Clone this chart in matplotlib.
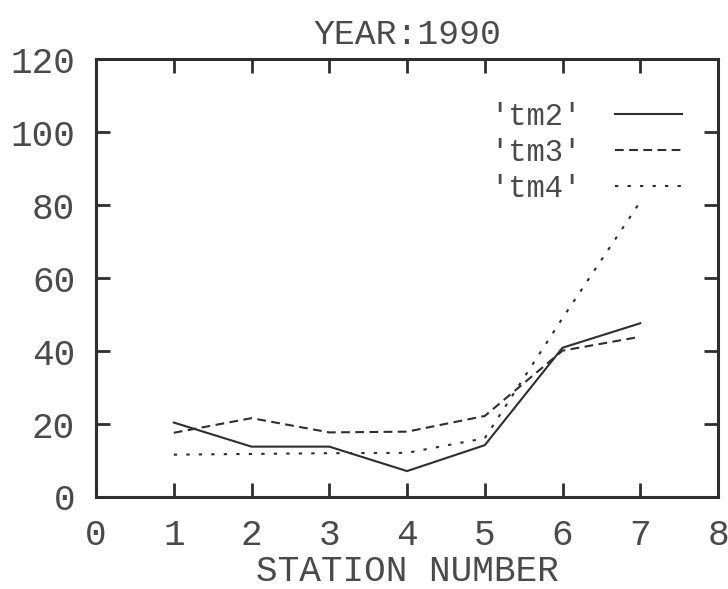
import matplotlib
matplotlib.use("Agg")
import matplotlib.pyplot as plt

# values
stations = [1, 2, 3, 4, 5, 6, 7]
tm2 = [20.4, 13.8, 13.8, 7.1, 14.2, 40.9, 47.6]
tm3 = [17.6, 21.6, 17.7, 17.9, 22.2, 40.1, 43.9]
tm4 = [11.6, 11.8, 12.0, 12.1, 16.1, 49.0, 80.9]
x_ticks = [0, 1, 2, 3, 4, 5, 6, 7, 8]
y_ticks = [0, 20, 40, 60, 80, 100, 120]

INK = "#2e2e2e"
TEXT = "#4a4a4a"

plt.rcParams["font.family"] = ["Liberation Mono", "DejaVu Sans Mono"]


def plot_year(path: str) -> None:
    """Draw the three station series for 1990."""
    fig = plt.figure(figsize=(7.28, 5.89), dpi=100)
    ax = fig.add_axes([0.1319, 0.1562, 0.8544, 0.7436])

    ax.plot(stations, tm2, color=INK, lw=1.5, ls="-", label="'tm2'")
    ax.plot(stations, tm3, color=INK, lw=1.5, ls=(0, (4.2, 2.6)), label="'tm3'")
    ax.plot(stations, tm4, color=INK, lw=1.5, ls=(0, (1.6, 4.4)), label="'tm4'")

    ax.set_xlim(0, 8)
    ax.set_ylim(0, 120)
    ax.set_xticks(x_ticks)
    ax.set_yticks(y_ticks)
    ax.tick_params(direction="in", length=10, width=2, color=INK,
                   top=True, right=True, labelsize=26, labelcolor=TEXT)
    ax.tick_params(axis="x", pad=15)
    ax.tick_params(axis="y", pad=15)
    for sp in ax.spines.values():
        sp.set_linewidth(2.2)
        sp.set_color(INK)

    ax.set_title("YEAR:1990", fontsize=25, color=TEXT, pad=11)
    ax.set_xlabel("STATION NUMBER", fontsize=26, color=TEXT, labelpad=1)

    ax.legend(loc="upper right", bbox_to_anchor=(0.942, 0.902), frameon=False,
              markerfirst=False, fontsize=22, labelcolor=TEXT, handlelength=2.2,
              handletextpad=1.1, labelspacing=0.2, borderpad=0, borderaxespad=0)

    fig.savefig(path, dpi=100)
    plt.close(fig)


if __name__ == "__main__":
    plot_year("out.png")
